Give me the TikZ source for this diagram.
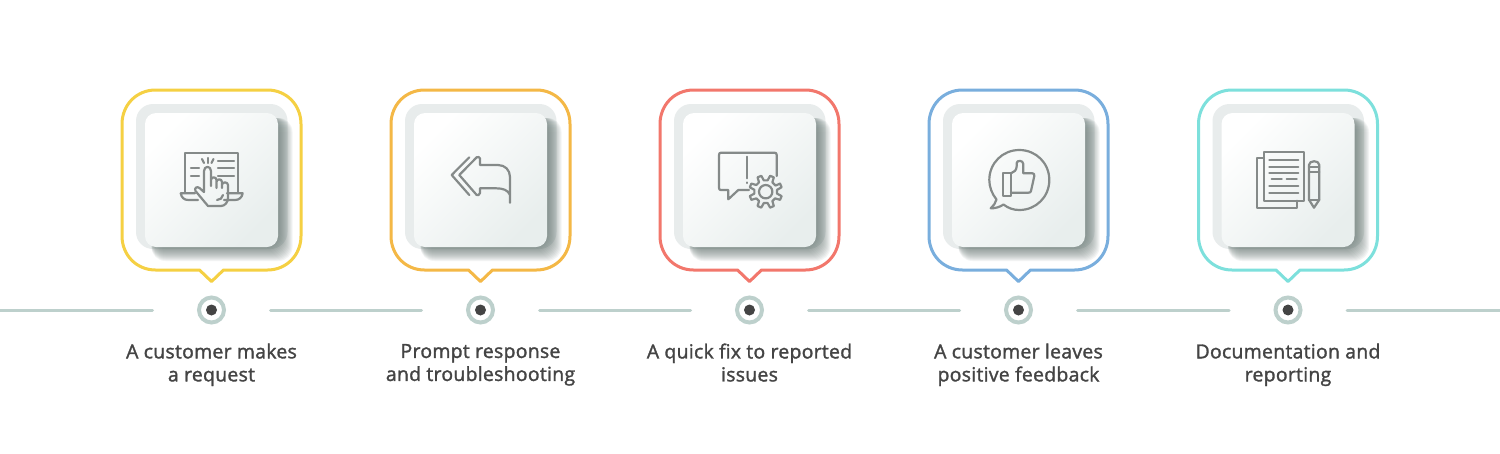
\documentclass[tikz,border=0pt]{standalone}
\usepackage{fontspec}
\setmainfont{Open Sans}
\newfontfamily\lblfont{Open Sans}[FakeBold=1.6,LetterSpace=1.5]
\definecolor{cYellow}{HTML}{F5D043}
\definecolor{cOrange}{HTML}{F4B846}
\definecolor{cRed}{HTML}{F2776C}
\definecolor{cBlue}{HTML}{79AEDD}
\definecolor{cTeal}{HTML}{7DE0DC}
\definecolor{cLine}{HTML}{BDD0CC}
\definecolor{cDot}{HTML}{444444}
\definecolor{cText}{HTML}{444444}
\definecolor{cHalo}{HTML}{E8ECEC}
\definecolor{cShadow}{HTML}{5F6F6B}
\definecolor{cCardEnd}{HTML}{E8EEED}
\definecolor{cIcon}{HTML}{858A89}
\tikzset{
  bubble/.style={draw=#1,line width=3pt,line join=round},
  halo/.style={fill=cHalo,rounded corners=17pt},
  shadowlayer/.style={fill=cShadow,fill opacity=0.07,rounded corners=14pt},
  card/.style={left color=white,right color=cCardEnd,shading angle=45,rounded corners=11pt},
  ring/.style={circle,draw=cLine,line width=4pt,fill=white,minimum size=25pt,inner sep=0pt,outer sep=0pt},
  pip/.style={circle,fill=cDot,minimum size=11pt,inner sep=0pt},
  timeline/.style={draw=cLine,line width=3pt,line cap=round},
  caption/.style={align=center,text=cText,font=\lblfont\fontsize{19.4}{23}\selectfont,text depth=0pt},
  icon/.style={draw=cIcon,line width=2.2pt,line cap=round,line join=round,fill=none},
}
\newcommand{\cardat}[2]{%
  \draw[bubble=#2] ({#1-12},270) -- ({#1},281.5) -- ({#1+12},270) -- ({#1+56},270)
     .. controls ({#1+75},270) and ({#1+89.5},255) .. ({#1+89.5},236) -- ({#1+89.5},124)
     .. controls ({#1+89.5},105) and ({#1+75},90) .. ({#1+56},90) -- ({#1-56},90)
     .. controls ({#1-75},90) and ({#1-89.5},105) .. ({#1-89.5},124) -- ({#1-89.5},236)
     .. controls ({#1-89.5},255) and ({#1-75},270) .. ({#1-56},270) -- cycle;
  \fill[halo] ({#1-75.5},104) rectangle ({#1+76},249);
  \foreach \e in {0,...,15} {
    \fill[shadowlayer] ({#1-60},118) rectangle ({#1+66+\e},{246+\e});
  }
  \shade[card] ({#1-66.5},113) rectangle ({#1+66.5},247);
}
\begin{document}
\begin{tikzpicture}[x=1pt,y=-1pt]
\useasboundingbox (0,0) rectangle (1500,453);
\fill[white] (0,0) rectangle (1500,453);
\coordinate (lineL) at (0,310);
\coordinate (lineR) at (1500,310);

\cardat{211.5}{cYellow}
\cardat{480.5}{cOrange}
\cardat{749.5}{cRed}
\cardat{1018.5}{cBlue}
\cardat{1288}{cTeal}

\foreach \n/\c in {1/211.5,2/480.5,3/749.5,4/1018.5,5/1288} {
  \node[ring] (d\n) at (\c,310) {};
  \node[pip] (p\n) at (\c,310) {};
}
\draw[timeline,shorten >=46.5pt] (lineL) -- (d1);
\draw[timeline,shorten <=46.5pt,shorten >=46.5pt] (d1) -- (d2);
\draw[timeline,shorten <=46.5pt,shorten >=46.5pt] (d2) -- (d3);
\draw[timeline,shorten <=46.5pt,shorten >=46.5pt] (d3) -- (d4);
\draw[timeline,shorten <=46.5pt,shorten >=46.5pt] (d4) -- (d5);
\draw[timeline,shorten <=46.5pt] (d5) -- (lineR);

\node[caption] (t1) at (211.5,362.5) {A customer makes\\a request};
\node[caption] (t2) at (480.5,362.5) {Prompt response\\and troubleshooting};
\node[caption] (t3) at (749.5,362.5) {A quick fix to reported\\issues};
\node[caption] (t4) at (1018.5,362.5) {A customer leaves\\positive feedback};
\node[caption] (t5) at (1288,362.5) {Documentation and\\reporting};

% icon 1: touch screen
\draw[icon] (185.3,192.5) -- (185.3,153.3) -- (238.3,153.3) -- (238.3,192.5);
\draw[icon] (195,193.3) -- (180.7,193.3) .. controls (181.5,197.5) and (184,200) .. (188.3,200) -- (198,200);
\draw[icon] (227,193.3) -- (242.7,193.3) .. controls (242,197.5) and (239,200) .. (235,200) -- (224,200);
\foreach \xa/\xb/\yy in {191/199/168,191/199/176,218/234/161,218/234/168,218/234/176}
  \draw[icon] (\xa,\yy) -- (\xb,\yy);
\draw[icon] (202,159) -- (204,163);
\draw[icon] (208,158) -- (208,163);
\draw[icon] (213.5,159) -- (211.5,163);
\draw[icon] (204,192) -- (204,171) .. controls (204,165.5) and (211,165.5) .. (211,171) -- (211,186)
  -- (211,180) .. controls (211,176.5) and (216.5,176.5) .. (216.5,180) -- (216.5,188)
  -- (216.5,182) .. controls (216.5,178.5) and (222,178.5) .. (222,182) -- (222,188)
  -- (222,185) .. controls (222,181.5) and (228,181.5) .. (228,185) -- (228,198)
  .. controls (228,202) and (225,206) .. (221,206) -- (208,206) -- (195.5,191)
  .. controls (194,188) and (197,186) .. (199.5,188) -- (204,192);
\draw[icon] (217,200) .. controls (220,200) and (222.5,198) .. (223,195);

% icon 2: reply arrow
\draw[icon] (469.3,157.3) -- (451.7,175) -- (469.3,195);
\draw[icon] (510,202.7) -- (510,177) .. controls (510,170) and (505,165) .. (498,165) -- (480,165) -- (480,158.5)
  .. controls (480,157) and (477.5,156.5) .. (476.7,157.3) -- (459.3,175) -- (476.7,195)
  .. controls (477.5,195.5) and (480,195) .. (480,193) -- (480,188.3) -- (496,188.3)
  .. controls (503,188.3) and (508,190) .. (510,195);

% icon 3: message and gear
\draw[icon] (776.7,176) -- (776.7,155) .. controls (776.7,153.5) and (776,152.7) .. (774.5,152.7) -- (721,152.7)
  .. controls (719.7,152.7) and (719,153.5) .. (719,155) -- (719,188) .. controls (719,189.5) and (719.7,190) .. (721,190)
  -- (728.3,190) -- (728.3,199.3) -- (738.3,190) -- (749,190);
\draw[icon] (747.3,156.7) -- (747.3,178.3);
\draw[icon] (747.3,182.5) -- (747.3,183);
\draw[icon] (765.7,191.7) circle[radius=6.7];
\draw[icon]
  ({765.7+11.5*cos(-32)},{191.7+11.5*sin(-32)})
  \foreach \a in {-22.5,22.5,67.5,112.5,157.5,202.5,247.5,292.5} {
    -- ({765.7+16.5*cos(\a-7)},{191.7+16.5*sin(\a-7)})
    -- ({765.7+16.5*cos(\a+7)},{191.7+16.5*sin(\a+7)})
    -- ({765.7+11.5*cos(\a+13)},{191.7+11.5*sin(\a+13)})
    -- ({765.7+11.5*cos(\a+32)},{191.7+11.5*sin(\a+32)})
  } -- cycle;

% icon 4: thumbs up in a speech bubble
\draw[icon] (996.5,199.5) .. controls (992,194) and (989.3,187) .. (989.3,180)
  .. controls (989.3,163) and (1002.7,150) .. (1019.3,150)
  .. controls (1036,150) and (1049.3,163) .. (1049.3,180)
  .. controls (1049.3,197) and (1036,210) .. (1019.3,210)
  .. controls (1013,210) and (1008,208) .. (1003.5,204.5)
  .. controls (1000,207) and (995,208.5) .. (990.7,208.3)
  .. controls (993.5,206) and (995.5,203) .. (996.5,199.5);
\draw[icon] (1002.7,172.7) rectangle (1011,196);
\draw[icon] (1011,173.3) .. controls (1014,172.5) and (1016.7,170) .. (1016.7,166) -- (1016.7,163)
  .. controls (1016.7,160) and (1023.3,160) .. (1023.3,164) -- (1023.3,173.3) -- (1032.5,173.3)
  .. controls (1034,173.3) and (1034.5,174.5) .. (1034.3,176) -- (1031,191)
  .. controls (1030.7,192.2) and (1030,192.7) .. (1028.3,192.7) -- (1011,192.7);

% icon 5: documents and pencil
\draw[icon] (1264,151.7) rectangle (1304,200.7);
\draw[icon] (1264,158.3) -- (1256.7,158.3) -- (1256.7,208.3) -- (1296.7,208.3) -- (1296.7,200.7);
\foreach \yy in {160,166.7,173,186,192.7}
  \draw[icon] (1269.3,\yy) -- (1298.3,\yy);
\draw[icon] (1271.7,179.3) -- (1281.7,179.3);
\draw[icon] (1286.7,179.3) -- (1296.7,179.3);
\draw[icon] (1309,166.7) -- (1309,165) .. controls (1309,160) and (1319.3,160) .. (1319.3,165) -- (1319.3,199.7)
  -- (1314,207.7) -- (1309,199.7) -- cycle;
\draw[icon] (1309,166.7) -- (1319.3,166.7);
\draw[icon] (1309,171.7) -- (1319.3,171.7);
\draw[icon] (1309,199.7) -- (1319.3,199.7);
\end{tikzpicture}
\end{document}
